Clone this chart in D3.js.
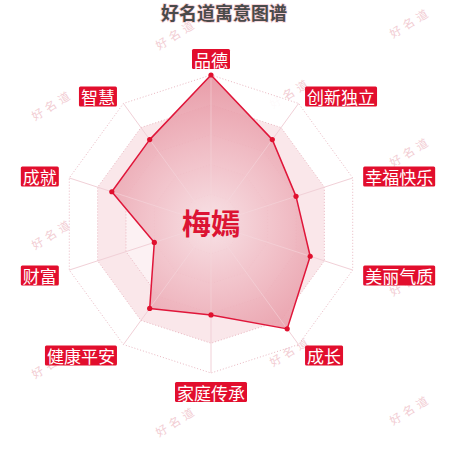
<!DOCTYPE html>
<html>
<head>
<meta charset="utf-8">
<script src="https://cdn.jsdelivr.net/npm/d3@7"></script>
<style>
  body { margin: 0; background: #fff; }
  text { font-family: "Noto Sans CJK SC", "Noto Sans", sans-serif; }
</style>
</head>
<body>
<svg id="chart" width="450" height="450"></svg>
<script>
// chart data
const titleText = "好名道寓意图谱";
const nameText = "梅嫣";
const categories = ["品德", "创新独立", "幸福快乐", "美丽气质", "成长", "家庭传承", "健康平安", "财富", "成就", "智慧"];
const values = [100, 70, 60, 70, 87, 61, 70, 40, 70, 70];
const maxValue = 100;
const ringLevels = [20, 40, 60, 80, 100];
const bandColors = ["#fcf1f3", "#f9e6ea", "#fcf2f4", "#f9e4e8", "#ffffff"];
const watermark = "好名道";

const svg = d3.select("#chart");
const cx = 211, cy = 224, R = 149;

// radius scale and angle for each axis
const r = d3.scaleLinear().domain([0, maxValue]).range([0, R]);
const angle = d3.scaleLinear().domain([0, categories.length]).range([0, 2 * Math.PI]);

function pt(i, v) {
    let a = angle(i);
    return [cx + r(v) * Math.sin(a), cy - r(v) * Math.cos(a)];
}

// gradient for the value area
const defs = svg.append("defs");
let g1 = defs.append("radialGradient").attr("id", "areaGrad")
    .attr("gradientUnits", "userSpaceOnUse")
    .attr("cx", cx).attr("cy", cy).attr("r", R);
g1.append("stop").attr("offset", "0%").attr("stop-color", "#f7e0e4");
g1.append("stop").attr("offset", "40%").attr("stop-color", "#f1c0c8");
g1.append("stop").attr("offset", "100%").attr("stop-color", "#e6929f");

// watermark layer (tiled)
const wm = svg.append("g").attr("id", "watermarks");
for (let row = 0; row < 7; row++) {
    let y = 40 + row * 64.5;
    let xs = row % 2 === 0 ? [176, 410] : [52, 290];
    xs.forEach(x => {
        wm.append("text")
            .attr("transform", `translate(${x},${y - (x - 50) * 0.05}) rotate(-32)`)
            .attr("text-anchor", "middle")
            .attr("dominant-baseline", "central")
            .attr("font-size", 11.5)
            .attr("letter-spacing", 4)
            .attr("fill", "#f2cdd3")
            .text(watermark);
    });
}

// grid bands, outer first
const ring = d3.line();
const grid = svg.append("g").attr("id", "grid");
grid.selectAll("path.band")
    .data(ringLevels.slice().reverse())
    .join("path")
    .attr("class", "band")
    .attr("d", lv => ring(categories.map((c, i) => pt(i, lv))) + "Z")
    .attr("fill", lv => bandColors[ringLevels.indexOf(lv)])
    .attr("fill-opacity", 0.9);

// dotted rings
grid.selectAll("path.ring")
    .data(ringLevels)
    .join("path")
    .attr("class", "ring")
    .attr("d", lv => ring(categories.map((c, i) => pt(i, lv))) + "Z")
    .attr("fill", "none")
    .attr("stroke", "#e9b7c1")
    .attr("stroke-width", 1)
    .attr("stroke-dasharray", "1,2");

// axis spokes
grid.selectAll("line")
    .data(categories)
    .join("line")
    .attr("x1", cx).attr("y1", cy)
    .attr("x2", (d, i) => pt(i, maxValue)[0])
    .attr("y2", (d, i) => pt(i, maxValue)[1])
    .attr("stroke", "#f1d0d7")
    .attr("stroke-width", 1);

// data polygon
svg.append("path")
    .attr("d", ring(values.map((v, i) => pt(i, v))) + "Z")
    .attr("fill", "url(#areaGrad)")
    .attr("fill-opacity", 0.9)
    .attr("stroke", "#e0163a")
    .attr("stroke-width", 1.5)
    .attr("stroke-linejoin", "round");

// spokes again over the area, faint
svg.append("g").selectAll("line")
    .data(categories)
    .join("line")
    .attr("x1", cx).attr("y1", cy)
    .attr("x2", (d, i) => pt(i, Math.min(values[i], maxValue))[0])
    .attr("y2", (d, i) => pt(i, Math.min(values[i], maxValue))[1])
    .attr("stroke", "#f6dbe0")
    .attr("stroke-opacity", 0.55)
    .attr("stroke-width", 1);

// points
svg.append("g").selectAll("circle")
    .data(values)
    .join("circle")
    .attr("cx", (v, i) => pt(i, v)[0])
    .attr("cy", (v, i) => pt(i, v)[1])
    .attr("r", 2.6)
    .attr("fill", "#e0102e");

// axis labels in red boxes
const labels = svg.append("g").attr("id", "labels");
categories.forEach((c, i) => {
    let a = angle(i);
    let s = Math.sin(a), k = Math.cos(a);
    let [x, y] = [cx + (R + 11) * s, cy - (R + 11) * k];
    let anchor = s > 0.1 ? "start" : (s < -0.1 ? "end" : "middle");
    if (Math.abs(s) <= 0.1) y += k > 0 ? -5 : 8;
    else y += 2;
    let grp = labels.append("g");
    let t = grp.append("text")
        .attr("x", x + (anchor === "start" ? 2 : anchor === "end" ? -2 : 0))
        .attr("y", y)
        .attr("text-anchor", anchor)
        .attr("dominant-baseline", "central")
        .attr("font-size", 17)
        .attr("fill", "#fff")
        .text(c);
    let bb = t.node().getBBox();
    grp.insert("rect", "text")
        .attr("x", bb.x - 2)
        .attr("y", y - 10)
        .attr("width", bb.width + 4)
        .attr("height", 20)
        .attr("rx", 1.5)
        .attr("fill", "#e20e2d");
});

// name in center
svg.append("text")
    .attr("x", cx).attr("y", cy - 2)
    .attr("text-anchor", "middle")
    .attr("dominant-baseline", "central")
    .attr("font-size", 29)
    .attr("font-weight", "bold")
    .attr("fill", "#dc1433")
    .text(nameText);

// title
svg.append("text")
    .attr("x", 224).attr("y", 12)
    .attr("text-anchor", "middle")
    .attr("dominant-baseline", "central")
    .attr("font-size", 18)
    .attr("font-weight", "bold")
    .attr("fill", "#4a4a4a")
    .style("paint-order", "stroke")
    .attr("stroke", "#f5d0d6")
    .attr("stroke-width", 1.5)
    .text(titleText);
</script>
</body>
</html>
